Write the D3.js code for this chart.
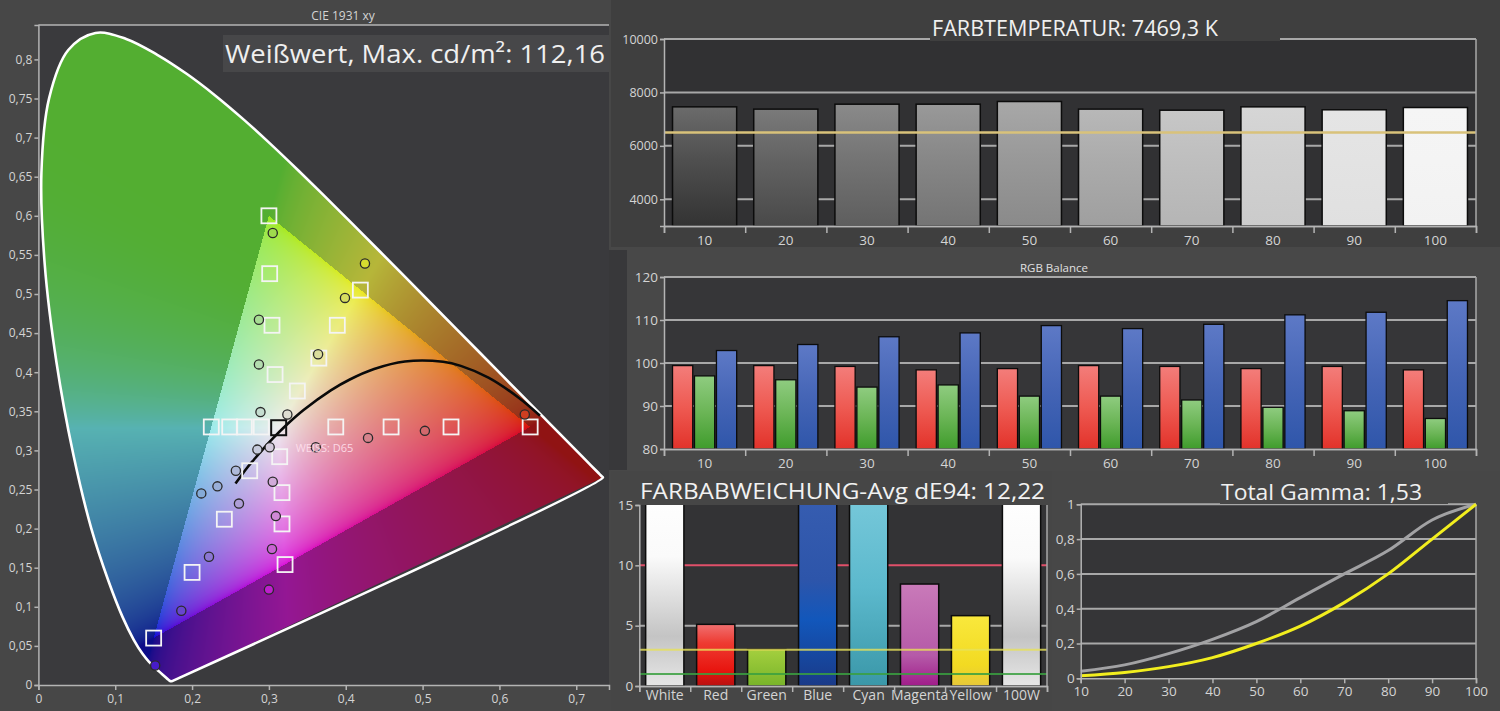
<!DOCTYPE html>
<html><head><meta charset="utf-8">
<script src="https://cdn.jsdelivr.net/npm/d3@7"></script>
<style>
html,body{margin:0;padding:0;background:#444;}
svg{display:block;}
text{font-family:"Open Sans","Noto Sans","DejaVu Sans",sans-serif;}
</style></head><body>
<svg id="sv" width="1500" height="711"></svg>
<script>
// ---------------- DATA ----------------
// CIE 1931 spectral locus (x, y), 380..700 nm
const spectralLocus = [
 [0.1741,0.0050],[0.1733,0.0048],[0.1726,0.0048],[0.1714,0.0051],[0.1689,0.0069],[0.1644,0.0109],
 [0.1566,0.0177],[0.1440,0.0297],[0.1355,0.0399],[0.1241,0.0578],[0.1096,0.0868],[0.0913,0.1327],
 [0.0687,0.2007],[0.0454,0.2950],[0.0235,0.4127],[0.0082,0.5384],[0.0039,0.6548],[0.0139,0.7502],
 [0.0389,0.8120],[0.0743,0.8338],[0.1142,0.8262],[0.1547,0.8059],[0.1929,0.7816],[0.2296,0.7543],
 [0.2658,0.7243],[0.3016,0.6923],[0.3373,0.6589],[0.3731,0.6245],[0.4087,0.5896],[0.4441,0.5547],
 [0.4788,0.5202],[0.5125,0.4866],[0.5448,0.4544],[0.5752,0.4242],[0.6029,0.3965],[0.6270,0.3725],
 [0.6482,0.3514],[0.6658,0.3340],[0.6915,0.3083],[0.7079,0.2920],[0.7190,0.2809],[0.7260,0.2740],
 [0.7300,0.2700],[0.7334,0.2666],[0.7347,0.2653]
];
// Rec.709 gamut triangle (R, G, B)
const gamutTriangle = [[0.64,0.33],[0.30,0.60],[0.15,0.06]];
const whitePoint = [0.3127,0.329];
// target squares (saturation sweeps)
const targetSquares = [
 [0.300,0.600],[0.301,0.526],[0.304,0.460],[0.308,0.397],
 [0.419,0.505],[0.389,0.460],[0.365,0.418],[0.337,0.376],
 [0.640,0.330],[0.537,0.330],[0.459,0.330],[0.387,0.330],
 [0.225,0.330],[0.249,0.330],[0.268,0.330],[0.290,0.330],
 [0.150,0.060],[0.200,0.144],[0.242,0.212],[0.275,0.274],
 [0.321,0.154],[0.317,0.206],[0.317,0.246],[0.314,0.292]
];
// measured points
const measuredPoints = [
 [0.305,0.578],[0.287,0.467],[0.287,0.410],[0.289,0.349],
 [0.425,0.539],[0.399,0.495],[0.364,0.423],[0.324,0.346],
 [0.633,0.346],[0.503,0.325],[0.429,0.316],[0.361,0.304],
 [0.212,0.245],[0.233,0.254],[0.257,0.274],[0.285,0.301],
 [0.301,0.304],
 [0.152,0.025],[0.186,0.095],[0.222,0.164],[0.261,0.232],
 [0.300,0.122],[0.304,0.174],[0.309,0.216],[0.305,0.260]
];
// Planckian locus 20000K .. 1000K
const planckLocus = [
 [0.2565,0.2577],[0.2637,0.2674],[0.2719,0.2782],[0.2807,0.2884],[0.2952,0.3048],[0.3064,0.3166],
 [0.3221,0.3318],[0.3451,0.3516],[0.3805,0.3768],[0.4053,0.3907],[0.4369,0.4041],[0.4770,0.4137],
 [0.5267,0.4133],[0.5497,0.4081],[0.5857,0.3931],[0.6251,0.3674],[0.6528,0.3444]
];
const cieXTicks = [0,0.1,0.2,0.3,0.4,0.5,0.6,0.7];
const cieYTicks = [0,0.05,0.1,0.15,0.2,0.25,0.3,0.35,0.4,0.45,0.5,0.55,0.6,0.65,0.7,0.75,0.8];

const levels = [10,20,30,40,50,60,70,80,90,100];
const cctValues = [7460,7375,7560,7560,7660,7375,7335,7460,7350,7435];
const cctTarget = 6500;
const cctTicks = [4000,6000,8000,10000];

const rgbRed   = [99.4,99.4,99.2,98.4,98.7,99.4,99.2,98.7,99.2,98.4];
const rgbGreen = [97.0,96.1,94.4,94.9,92.3,92.3,91.4,89.7,88.9,87.1];
const rgbBlue  = [102.9,104.3,106.1,107.0,108.7,108.0,109.0,111.2,111.8,114.5];
const rgbTicks = [80,90,100,110,120];

const deCategories = ["White","Red","Green","Blue","Cyan","Magenta","Yellow","100W"];
const deValues = [16.5,5.11,3.04,22.0,20.5,8.45,5.83,16.3];
const deTicks = [0,5,10,15];
const deLimits = [10,3,1];

const gammaLevels = [10,20,30,40,50,60,70,80,90,100];
const gammaMeasured = [0.040,0.077,0.142,0.224,0.326,0.464,0.600,0.734,0.910,1.0];
const gammaTarget = [0.015,0.034,0.067,0.119,0.200,0.300,0.435,0.600,0.800,1.0];
const gammaYTicks = [0,0.2,0.4,0.6,0.8,1];

// ---------------- SETUP ----------------
const W=1500,H=711;
const svg=d3.select('#sv');
const defs=svg.append('defs');
const loc=d3.formatLocale({decimal:",",thousands:".",grouping:[3],currency:["","€"]});
const fmt=loc.format("~g");
const TXT="#d4d4d4", AX="#b4b4b4", GRID="#a8a8a8";

function grad(id, stops){
  const g=defs.append('linearGradient').attr('id',id).attr('x1',0).attr('y1',0).attr('x2',0).attr('y2',1);
  stops.forEach(s=>g.append('stop').attr('offset',s[0]).attr('stop-color',s[1]));
  return `url(#${id})`;
}
function styleAxis(g,fs){
  g.select('.domain').attr('stroke',AX).attr('stroke-width',1.5);
  g.selectAll('.tick line').attr('stroke',AX).attr('stroke-width',1.5);
  g.selectAll('.tick text').attr('fill',TXT).attr('font-size',fs||12).attr('font-family','"Open Sans",sans-serif');
}

// backgrounds
svg.append('rect').attr('width',W).attr('height',H).attr('fill','#454545');
svg.append('rect').attr('x',0).attr('y',0).attr('width',611).attr('height',H).attr('fill','#474747');
svg.append('rect').attr('x',611).attr('y',0).attr('width',889).attr('height',247).attr('fill','#3f3f3f');
svg.append('rect').attr('x',611).attr('y',247).attr('width',889).attr('height',224).attr('fill','#484848');
svg.append('rect').attr('x',609).attr('y',250).attr('width',18).attr('height',220).attr('fill','#38383a');
svg.append('rect').attr('x',611).attr('y',471).attr('width',441).attr('height',240).attr('fill','#464646');
svg.append('rect').attr('x',1052).attr('y',471).attr('width',448).attr('height',240).attr('fill','#474747');

// ---------------- CIE ----------------
const xC=d3.scaleLinear([0,0.7426],[38.4,609]);
const yC=d3.scaleLinear([0,0.844],[685,25]);
svg.append('rect').attr('x',xC(0)).attr('y',yC(0.844)).attr('width',xC(0.7426)-xC(0)).attr('height',yC(0)-yC(0.844)).attr('fill','#3a3a3d');

function xyToLin(x,y){
  const X=x/y, Y=1, Z=(1-x-y)/y;
  let r= 3.2406*X-1.5372*Y-0.4986*Z;
  let g=-0.9689*X+1.8758*Y+0.0415*Z;
  let b= 0.0557*X-0.2040*Y+1.0570*Z;
  r=Math.max(r,0); g=Math.max(g,0); b=Math.max(b,0);
  const m=Math.max(r,g,b)||1;
  return [r/m,g/m,b/m];
}
const gm=v=> v<=0.0031308?12.92*v:1.055*Math.pow(v,1/2.4)-0.055;
function inTri(x,y){
  const [a,b,c]=gamutTriangle;
  const s=(p,q)=> (x-q[0])*(p[1]-q[1])-(p[0]-q[0])*(y-q[1]);
  const d1=s(a,b),d2=s(b,c),d3=s(c,a);
  const neg=(d1<0)||(d2<0)||(d3<0), pos=(d1>0)||(d2>0)||(d3>0);
  return !(neg&&pos);
}
function chromaColor(x,y,inside){
  let [r,g,b]=xyToLin(x,y);
  if(!inside && g>=b) b=Math.pow(b,4);
  r = r + (inside?0.35:0.06)*g*(1-r);
  let c=[gm(r),gm(g),gm(b)];
  const L=0.2126*c[0]+0.7152*c[1]+0.0722*c[2];
  const ds=inside?0.12:0.30, k=inside?0.91:0.70, add=inside?0.02:0.03;
  return c.map(v=>Math.min(1,(v+(L-v)*ds)*k+add));
}
{
  const x0=Math.floor(xC(0)), x1=Math.ceil(xC(0.7426)), y0=Math.floor(yC(0.844)), y1=Math.ceil(yC(0));
  const off=document.createElement('canvas'); off.width=W; off.height=H;
  const octx=off.getContext('2d');
  const img=octx.createImageData(W,H);
  for(let py=y0;py<=y1;py++){
    for(let px=x0;px<=x1;px++){
      const x=xC.invert(px+0.5), y=yC.invert(py+0.5);
      if(y<=0.001) continue;
      const c=chromaColor(x,y,inTri(x,y));
      const i=(py*W+px)*4;
      img.data[i]=c[0]*255; img.data[i+1]=c[1]*255; img.data[i+2]=c[2]*255; img.data[i+3]=255;
    }
  }
  octx.putImageData(img,0,0);
  const cv=document.createElement('canvas'); cv.width=W; cv.height=H;
  const ctx=cv.getContext('2d');
  ctx.beginPath();
  d3.line().x(d=>xC(d[0])).y(d=>yC(d[1])).curve(d3.curveCatmullRom).context(ctx)(spectralLocus);
  ctx.closePath(); ctx.clip();
  ctx.drawImage(off,0,0);
  svg.append('image').attr('x',0).attr('y',0).attr('width',W).attr('height',H).attr('href',cv.toDataURL());
}
// locus outline
svg.append('path').datum(spectralLocus.concat([spectralLocus[0]]))
  .attr('d',d3.line().x(d=>xC(d[0])).y(d=>yC(d[1])).curve(d3.curveCatmullRomClosed))
  .attr('fill','none').attr('stroke','#fff').attr('stroke-width',2.6).attr('stroke-linejoin','round');
// planck
svg.append('path').datum(planckLocus)
  .attr('d',d3.line().x(d=>xC(d[0])).y(d=>yC(d[1])).curve(d3.curveCatmullRom))
  .attr('fill','none').attr('stroke','#0a0a0a').attr('stroke-width',2.6);
// squares
const sq=15;
svg.append('g').selectAll('rect').data(targetSquares).join('rect')
  .attr('x',d=>xC(d[0])-sq/2).attr('y',d=>yC(d[1])-sq/2).attr('width',sq).attr('height',sq)
  .attr('fill','none').attr('stroke','#f4f4f4').attr('stroke-width',1.8);
svg.append('rect').attr('x',xC(whitePoint[0])-sq/2).attr('y',yC(whitePoint[1])-sq/2).attr('width',sq).attr('height',sq)
  .attr('fill','none').attr('stroke','#111').attr('stroke-width',2);
// circles
svg.append('g').selectAll('circle').data(measuredPoints).join('circle')
  .attr('cx',d=>xC(d[0])).attr('cy',d=>yC(d[1])).attr('r',4.6)
  .attr('fill',d=>{const c=chromaColor(d[0],d[1],true).map(v=>Math.round((v*0.85+0.08)*255));return `rgb(${c})`;})
  .attr('stroke','#2a2a2a').attr('stroke-width',1.3);
svg.append('text').attr('x',xC(whitePoint[0])+17).attr('y',yC(whitePoint[1])+24)
  .attr('font-size',11).attr('fill','rgba(255,225,238,0.9)').text('WEISS: D65');
// frame + axes
svg.append('line').attr('x1',xC(0)).attr('x2',xC(0.7426)).attr('y1',yC(0.844)).attr('y2',yC(0.844)).attr('stroke',AX).attr('stroke-width',1.5);
const gxC=svg.append('g').attr('transform',`translate(0,${yC(0)})`).call(d3.axisBottom(xC).tickValues(cieXTicks).tickFormat(fmt).tickSize(5).tickPadding(4));
styleAxis(gxC,12);
const gyC=svg.append('g').attr('transform',`translate(${xC(0)},0)`).call(d3.axisLeft(yC).tickValues(cieYTicks).tickFormat(fmt).tickSize(4).tickPadding(2));
styleAxis(gyC,12);
svg.append('text').attr('x',343).attr('y',20).attr('text-anchor','middle').attr('font-size',12).attr('fill',TXT).text('CIE 1931 xy');
svg.append('rect').attr('x',223).attr('y',35).attr('width',386).attr('height',37).attr('fill','#474749');
svg.append('text').attr('x',225).attr('y',63).attr('font-size',26).attr('fill','#efefef')
  .attr('textLength',380).attr('lengthAdjust','spacingAndGlyphs').text('Weißwert, Max. cd/m²: 112,16');

// ---------------- FARBTEMPERATUR ----------------
const bx0=664,bx1=1476;
const xB=d3.scaleBand(levels,[bx0,bx1]).paddingInner(0.21).paddingOuter(0.105);
const xBound=d3.scaleLinear([0,levels.length],[bx0,bx1]);
const yT=d3.scaleLinear([3000,10000],[226,39]);
svg.append('rect').attr('x',bx0).attr('y',yT(10000)).attr('width',bx1-bx0).attr('height',yT(3000)-yT(10000)).attr('fill','#313133');
svg.append('g').selectAll('line').data(cctTicks.slice(0,3)).join('line')
  .attr('x1',bx0).attr('x2',bx1).attr('y1',d=>yT(d)).attr('y2',d=>yT(d)).attr('stroke',GRID).attr('stroke-width',2);
const cctFill=levels.map((d,i)=>{
  const t=Math.min(0.97,0.42+0.06*i), b=Math.min(t-0.01,0.2+0.085*i);
  const c=v=>d3.rgb(v*255,v*255,v*255).formatHex();
  return grad('cct'+i,[[0,c(t)],[0.45,c((t+b)/2)],[1,c(b)]]);
});
svg.append('g').selectAll('rect').data(cctValues).join('rect')
  .attr('x',(d,i)=>xB(levels[i])).attr('width',xB.bandwidth())
  .attr('y',d=>yT(d)).attr('height',d=>yT(3000)-yT(d))
  .attr('fill',(d,i)=>cctFill[i]).attr('stroke','#0c0c0c').attr('stroke-width',1.5);
svg.append('line').attr('x1',bx0).attr('x2',bx1).attr('y1',yT(cctTarget)).attr('y2',yT(cctTarget)).attr('stroke','#d9c27a').attr('stroke-width',2.5);
svg.append('line').attr('x1',bx0).attr('x2',bx1).attr('y1',yT(10000)).attr('y2',yT(10000)).attr('stroke',GRID).attr('stroke-width',2);
svg.append('line').attr('x1',bx1).attr('x2',bx1).attr('y1',yT(10000)).attr('y2',yT(3000)).attr('stroke',GRID).attr('stroke-width',1.5);
const gyT=svg.append('g').attr('transform',`translate(${bx0},0)`).call(d3.axisLeft(yT).tickValues(cctTicks).tickFormat(fmt).tickSize(4).tickPadding(2));
styleAxis(gyT,12.5);
const gxT=svg.append('g').attr('transform',`translate(0,${yT(3000)})`).call(d3.axisBottom(xB).tickSize(0).tickPadding(9));
styleAxis(gxT,13.5);
svg.append('g').attr('transform',`translate(0,${yT(3000)})`).call(d3.axisBottom(xBound).ticks(10).tickFormat('').tickSize(7)).call(g=>styleAxis(g));
svg.append('rect').attr('x',930).attr('y',8).attr('width',350).attr('height',33).attr('fill','#3f3f3f');
svg.append('text').attr('x',932).attr('y',36).attr('font-size',21).attr('fill','#f0f0f0')
  .attr('textLength',286).attr('lengthAdjust','spacingAndGlyphs').text('FARBTEMPERATUR: 7469,3 K');

// ---------------- RGB BALANCE ----------------
const yR=d3.scaleLinear([80,120],[449,277]);
const xIn=d3.scaleBand(['r','g','b'],[0,xB.bandwidth()]).paddingInner(0.08);
svg.append('rect').attr('x',bx0).attr('y',yR(120)).attr('width',bx1-bx0).attr('height',yR(80)-yR(120)).attr('fill','#363638');
svg.append('g').selectAll('line').data(rgbTicks.slice(1,4)).join('line')
  .attr('x1',bx0).attr('x2',bx1).attr('y1',d=>yR(d)).attr('y2',d=>yR(d)).attr('stroke',GRID).attr('stroke-width',2);
const rgbSeries=[
  {k:'r',vals:rgbRed,fill:grad('gr',[[0,'#f37d7a'],[0.5,'#ee5a52'],[1,'#e2322a']])},
  {k:'g',vals:rgbGreen,fill:grad('gg',[[0,'#8fcc80'],[0.5,'#6bb556'],[1,'#3f9c2c']])},
  {k:'b',vals:rgbBlue,fill:grad('gb',[[0,'#5d79c6'],[0.5,'#4565b6'],[1,'#2f56aa']])}
];
rgbSeries.forEach(s=>{
  svg.append('g').selectAll('rect').data(s.vals).join('rect')
    .attr('x',(d,i)=>xB(levels[i])+xIn(s.k)).attr('width',xIn.bandwidth())
    .attr('y',d=>yR(d)).attr('height',d=>yR(80)-yR(d))
    .attr('fill',s.fill).attr('stroke','#0c0c0c').attr('stroke-width',1.3);
});
svg.append('line').attr('x1',bx0).attr('x2',bx1).attr('y1',yR(120)).attr('y2',yR(120)).attr('stroke',GRID).attr('stroke-width',2);
svg.append('line').attr('x1',bx1).attr('x2',bx1).attr('y1',yR(120)).attr('y2',yR(80)).attr('stroke',GRID).attr('stroke-width',1.5);
const gyR=svg.append('g').attr('transform',`translate(${bx0},0)`).call(d3.axisLeft(yR).tickValues(rgbTicks).tickFormat(fmt).tickSize(4).tickPadding(2));
styleAxis(gyR,13.5);
const gxR=svg.append('g').attr('transform',`translate(0,${yR(80)})`).call(d3.axisBottom(xB).tickSize(0).tickPadding(9));
styleAxis(gxR,13.5);
svg.append('g').attr('transform',`translate(0,${yR(80)})`).call(d3.axisBottom(xBound).ticks(10).tickFormat('').tickSize(7)).call(g=>styleAxis(g));
svg.append('text').attr('x',1054).attr('y',272).attr('text-anchor','middle').attr('font-size',11.5).attr('fill','#e0e0e0').text('RGB Balance');

// ---------------- FARBABWEICHUNG ----------------
const dx0=639.3,dx1=1047;
const xD=d3.scaleBand(deCategories,[dx0,dx1]).paddingInner(0.25).paddingOuter(0.125);
const xDB=d3.scaleLinear([0,deCategories.length],[dx0,dx1]);
const yD=d3.scaleLinear([0,15],[686,505]);
svg.append('rect').attr('x',dx0).attr('y',yD(15)).attr('width',dx1-dx0).attr('height',yD(0)-yD(15)).attr('fill','#333335');
defs.append('clipPath').attr('id','dclip').append('rect').attr('x',dx0).attr('y',yD(15)).attr('width',dx1-dx0).attr('height',yD(0)-yD(15));
svg.append('line').attr('x1',dx0).attr('x2',dx1).attr('y1',yD(5)).attr('y2',yD(5)).attr('stroke',GRID).attr('stroke-width',2);
svg.append('line').attr('x1',dx0).attr('x2',dx1).attr('y1',yD(deLimits[0])).attr('y2',yD(deLimits[0])).attr('stroke','#e0506a').attr('stroke-width',2);
const deFill=[
  grad('d0',[[0,'#ffffff'],[0.35,'#fafafa'],[0.75,'#c4c4c4'],[1,'#e6e6e6']]),
  grad('d1',[[0,'#f07070'],[0.3,'#ee3b32'],[0.75,'#e8150f'],[1,'#b81010']]),
  grad('d2',[[0,'#a4cf3e'],[1,'#78b42a']]),
  grad('d3',[[0,'#3f64b6'],[0.6,'#2d55aa'],[0.75,'#1257bb'],[1,'#1a3a88']]),
  grad('d4',[[0,'#88d2e2'],[0.6,'#5cb9cd'],[1,'#3a97a8']]),
  grad('d5',[[0,'#c97ab9'],[0.7,'#b55aa8'],[1,'#a01c8a']]),
  grad('d6',[[0,'#f9e83c'],[0.7,'#f2da22'],[1,'#e6c83a']]),
  grad('d7',[[0,'#ffffff'],[0.35,'#fafafa'],[0.75,'#c4c4c4'],[1,'#e6e6e6']])
];
svg.append('g').attr('clip-path','url(#dclip)').selectAll('rect').data(deValues).join('rect')
  .attr('x',(d,i)=>xD(deCategories[i])).attr('width',xD.bandwidth())
  .attr('y',d=>yD(d)).attr('height',d=>yD(0)-yD(d))
  .attr('fill',(d,i)=>deFill[i]).attr('stroke','#0c0c0c').attr('stroke-width',1.5);
svg.append('line').attr('x1',dx0).attr('x2',dx1).attr('y1',yD(deLimits[1])).attr('y2',yD(deLimits[1])).attr('stroke','#e8e25a').attr('stroke-width',2).attr('opacity',0.8);
svg.append('line').attr('x1',dx0).attr('x2',dx1).attr('y1',yD(deLimits[2])).attr('y2',yD(deLimits[2])).attr('stroke','#3aa040').attr('stroke-width',2).attr('opacity',0.85);
svg.append('line').attr('x1',dx1).attr('x2',dx1).attr('y1',yD(15)).attr('y2',yD(0)).attr('stroke',GRID).attr('stroke-width',1.5);
const gyD=svg.append('g').attr('transform',`translate(${dx0},0)`).call(d3.axisLeft(yD).tickValues(deTicks).tickFormat(fmt).tickSize(4).tickPadding(2));
styleAxis(gyD,13.5);
const gxD=svg.append('g').attr('transform',`translate(0,${yD(0)})`).call(d3.axisBottom(xD).tickSize(0).tickPadding(4));
styleAxis(gxD,14);
svg.append('g').attr('transform',`translate(0,${yD(0)})`).call(d3.axisBottom(xDB).ticks(8).tickFormat('').tickSize(6)).call(g=>styleAxis(g));
svg.append('text').attr('x',640).attr('y',499).attr('font-size',22).attr('fill','#f2f2f2')
  .attr('textLength',405).attr('lengthAdjust','spacingAndGlyphs').text('FARBABWEICHUNG-Avg dE94: 12,22');

// ---------------- GAMMA ----------------
const xG=d3.scaleLinear([10,100],[1080.7,1476]);
const yG=d3.scaleLinear([0,1],[678.3,504.3]);
svg.append('rect').attr('x',xG(10)).attr('y',yG(1)).attr('width',xG(100)-xG(10)).attr('height',yG(0)-yG(1)).attr('fill','#353537');
svg.append('g').selectAll('line').data(gammaYTicks.slice(1,5)).join('line')
  .attr('x1',xG(10)).attr('x2',xG(100)).attr('y1',d=>yG(d)).attr('y2',d=>yG(d)).attr('stroke',GRID).attr('stroke-width',2);
svg.append('line').attr('x1',xG(10)).attr('x2',xG(100)).attr('y1',yG(1)).attr('y2',yG(1)).attr('stroke',GRID).attr('stroke-width',2);
svg.append('line').attr('x1',xG(100)).attr('x2',xG(100)).attr('y1',yG(1)).attr('y2',yG(0)).attr('stroke',GRID).attr('stroke-width',1.5);
const gl=d3.line().x((d,i)=>xG(gammaLevels[i])).y(d=>yG(d)).curve(d3.curveMonotoneX);
svg.append('path').datum(gammaMeasured).attr('d',gl).attr('fill','none').attr('stroke','#a2a2a4').attr('stroke-width',3);
svg.append('path').datum(gammaTarget).attr('d',gl).attr('fill','none').attr('stroke','#f2ee1e').attr('stroke-width',3);
const gyG=svg.append('g').attr('transform',`translate(${xG(10)},0)`).call(d3.axisLeft(yG).tickValues(gammaYTicks).tickFormat(fmt).tickSize(4).tickPadding(2));
styleAxis(gyG,13.5);
const gxG=svg.append('g').attr('transform',`translate(0,${yG(0)})`).call(d3.axisBottom(xG).tickValues(gammaLevels).tickFormat(fmt).tickSize(5).tickPadding(3));
styleAxis(gxG,13.5);
svg.append('rect').attr('x',1220).attr('y',474).attr('width',228).attr('height',30).attr('fill','#474747');
svg.append('text').attr('x',1221).attr('y',500).attr('font-size',22).attr('fill','#f0f0f0')
  .attr('textLength',201).attr('lengthAdjust','spacingAndGlyphs').text('Total Gamma: 1,53');
</script>
</body></html>
